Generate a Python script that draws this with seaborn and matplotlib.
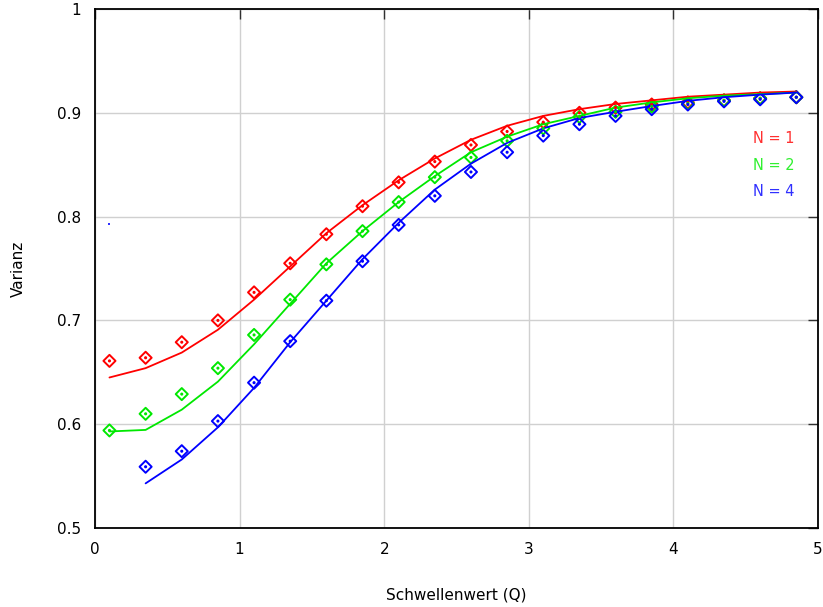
"""Varianz vs. Schwellenwert (Q) for N = 1, 2, 4: simulated points and model curves."""
import matplotlib
matplotlib.use("Agg")
import matplotlib.pyplot as plt
from matplotlib.ticker import FuncFormatter
import numpy as np
import pandas as pd
import seaborn as sns

q = [0.1, 0.35, 0.6, 0.85, 1.1, 1.35, 1.6, 1.85, 2.1, 2.35,
     2.6, 2.85, 3.1, 3.35, 3.6, 3.85, 4.1, 4.35, 4.6, 4.85]

# markers (simulation)
pts_n1 = [0.661, 0.664, 0.679, 0.700, 0.727, 0.755, 0.783, 0.810, 0.833, 0.853,
          0.869, 0.882, 0.891, 0.900, 0.905, 0.908, 0.910, 0.912, 0.914, 0.915]
pts_n2 = [0.594, 0.610, 0.629, 0.654, 0.686, 0.720, 0.754, 0.786, 0.814, 0.838,
          0.857, 0.873, 0.885, 0.896, 0.901, 0.906, 0.909, 0.912, 0.914, 0.915]
pts_n4 = [None, 0.559, 0.574, 0.603, 0.640, 0.680, 0.719, 0.757, 0.792, 0.820,
          0.843, 0.862, 0.878, 0.889, 0.897, 0.9035, 0.908, 0.911, 0.913, 0.915]

# curves (theory)
line_n1 = [0.645, 0.654, 0.669, 0.691, 0.720, 0.752, 0.784, 0.811, 0.835, 0.856,
           0.874, 0.8875, 0.897, 0.9035, 0.9085, 0.912, 0.9155, 0.9175, 0.9195, 0.9205]
line_n2 = [0.593, 0.5945, 0.614, 0.641, 0.677, 0.716, 0.755, 0.786, 0.814, 0.839,
           0.862, 0.877, 0.889, 0.897, 0.905, 0.910, 0.914, 0.9165, 0.918, 0.9195]
line_n4 = [None, 0.543, 0.566, 0.597, 0.635, 0.679, 0.719, 0.759, 0.794, 0.826,
           0.851, 0.871, 0.885, 0.895, 0.901, 0.9065, 0.9115, 0.915, 0.9175, 0.9195]

labels = ["N = 1", "N = 2", "N = 4"]
colors = ["#ff0000", "#00e800", "#0000ff"]
text_colors = ["#ff3030", "#30f030", "#3030ff"]

stray_q, stray_v = 0.1, 0.793  # lone blue pixel left of the curves

rows = []
for lab, p, l in zip(labels, [pts_n1, pts_n2, pts_n4], [line_n1, line_n2, line_n4]):
    for x, pv, lv in zip(q, p, l):
        rows.append((lab, x, pv, lv))
df = pd.DataFrame(rows, columns=["N", "Q", "punkte", "kurve"])

sns.set_style("white")
plt.rcParams["font.family"] = ["DejaVu Sans"]

fig = plt.figure(figsize=(8.23, 6.07), dpi=100)
ax = fig.add_axes([95 / 823, 1 - 528 / 607, 723 / 823, 519 / 607])

palette = dict(zip(labels, colors))
sns.lineplot(data=df.dropna(subset=["kurve"]), x="Q", y="kurve", hue="N",
             palette=palette, lw=1.3, legend=False, ax=ax, sort=False)
pts = df.dropna(subset=["punkte"])
sns.scatterplot(data=pts, x="Q", y="punkte", hue="N",
                palette=palette, marker="D", s=38,
                linewidth=1.4, legend=False, ax=ax)
coll = ax.collections[-1]
coll.set_edgecolors(coll.get_facecolors())
coll.set_facecolors("none")
# tiny dot in the middle of each diamond
ax.scatter(pts["Q"], pts["punkte"], s=1.5,
           color=[palette[n] for n in pts["N"]], zorder=3)
ax.scatter([stray_q], [stray_v], s=0.6, color="#3030ff", marker="s", lw=0)

for i, (lab, tc) in enumerate(zip(labels, text_colors)):
    ax.text(0.91, 0.75 - i * 0.051, lab, color=tc, fontsize=10.5,
            transform=ax.transAxes, ha="left", va="center")

ax.set_xlim(0, 5)
ax.set_ylim(0.5, 1)
ax.set_xticks(np.arange(0, 6, 1))
ax.set_yticks(np.arange(0.5, 1.01, 0.1))
fmt = FuncFormatter(lambda v, _: f"{v:g}")
ax.xaxis.set_major_formatter(fmt)
ax.yaxis.set_major_formatter(fmt)
ax.grid(True, color="#d0d0d0", lw=1)
ax.set_axisbelow(True)
for s in ax.spines.values():
    s.set_color("black")
    s.set_linewidth(1.3)
ax.tick_params(direction="in", length=7, width=1, color="#303030",
               top=True, right=True, labelsize=11, pad=10, labelcolor="black")
ax.set_xlabel("Schwellenwert (Q)", fontsize=11, labelpad=22, color="black")
ax.set_ylabel("Varianz", fontsize=11, labelpad=22, color="black")

fig.savefig("out.png", dpi=100)
